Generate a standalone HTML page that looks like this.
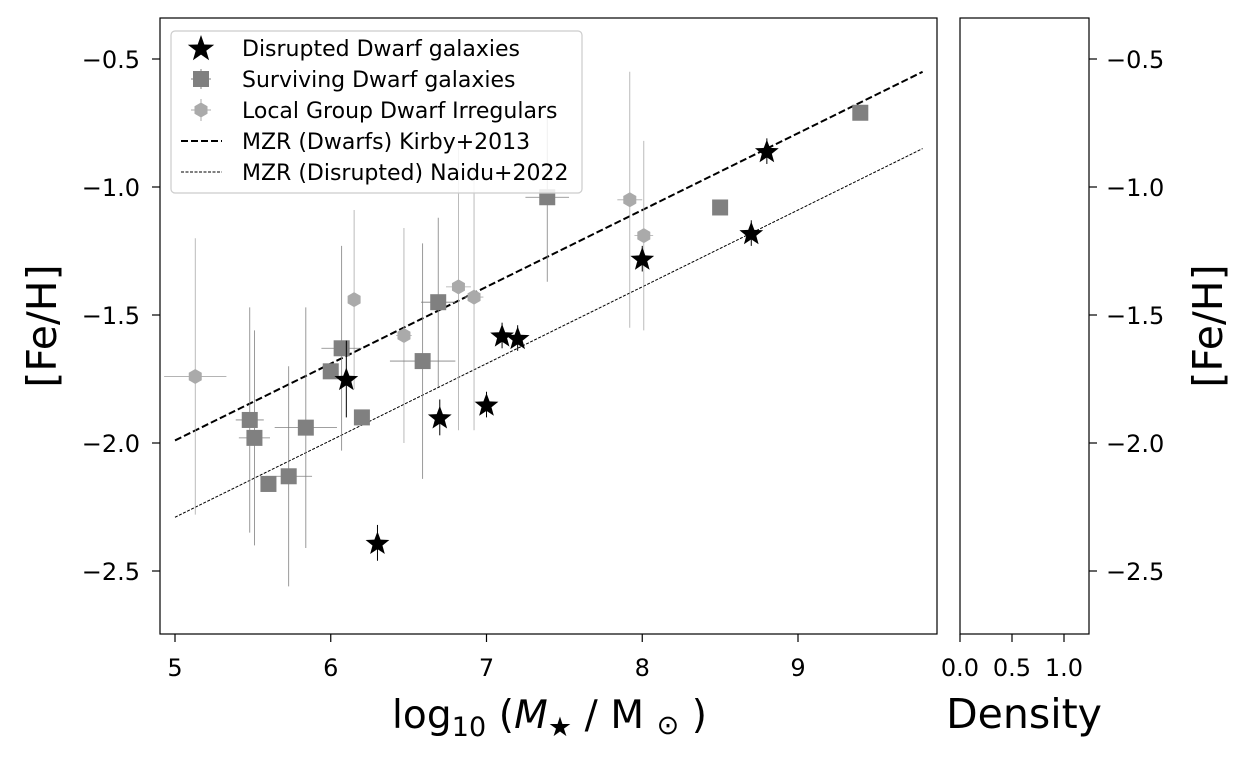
<!DOCTYPE html>
<html><head><meta charset="utf-8">
<style>
html,body{margin:0;padding:0;background:#fff;width:1250px;height:760px;overflow:hidden}
svg text{font-family:"DejaVu Sans","Liberation Sans",sans-serif;fill:#000}
</style></head>
<body>
<svg id="chart" width="1250" height="760" viewBox="0 0 1250 760" xmlns="http://www.w3.org/2000/svg" style="position:absolute;left:0;top:0"></svg>
<script>
// ---- data ----
const disruptedMass = [6.1, 6.3, 6.7, 7.0, 7.1, 7.2, 8.0, 8.7, 8.8];
const disruptedFeH  = [-1.75, -2.39, -1.90, -1.85, -1.58, -1.59, -1.28, -1.18, -0.86];
const disruptedYerr = [0.15, 0.07, 0.07, 0.05, 0.05, 0.05, 0.05, 0.05, 0.05];

const survivingMass = [5.48, 5.51, 5.60, 5.73, 5.84, 6.00, 6.07, 6.20, 6.59, 6.69, 7.39, 8.50, 9.40];
const survivingFeH  = [-1.91, -1.98, -2.16, -2.13, -1.94, -1.72, -1.63, -1.90, -1.68, -1.45, -1.04, -1.08, -0.71];
const survivingXerr = [0.09, 0.1, 0.03, 0.15, 0.2, 0.05, 0.13, 0.04, 0.21, 0.11, 0.14, 0.0, 0.0];
const survivingYerr = [0.44, 0.42, 0.03, 0.43, 0.47, 0.03, 0.40, 0.03, 0.46, 0.33, 0.33, 0.0, 0.0];

const irrMass = [5.13, 6.15, 6.47, 6.82, 6.92, 7.92, 8.01];
const irrFeH  = [-1.74, -1.44, -1.58, -1.39, -1.43, -1.05, -1.19];
const irrXerr = [0.2, 0.03, 0.05, 0.08, 0.06, 0.08, 0.06];
const irrYerr = [0.54, 0.35, 0.42, 0.56, 0.52, 0.5, 0.37];

const kirbyIntercept = -1.69, kirbySlope = 0.30;
const naiduIntercept = -1.99, naiduSlope = 0.30;
const xTicks = [5, 6, 7, 8, 9];
const yTicks = [-0.5, -1.0, -1.5, -2.0, -2.5];
const yTickLabels = ["\u22120.5", "\u22121.0", "\u22121.5", "\u22122.0", "\u22122.5"];
const densTicks = [0.0, 0.5, 1.0];
const densTickLabels = ["0.0", "0.5", "1.0"];

// ---- axes ----
const X = v => 175 + (v - 5) * 155.75;
const Y = v => 59 + (-0.5 - v) * 256;
const D = v => 960 + v * 104;
const NS = "http://www.w3.org/2000/svg";
const svg = document.getElementById('chart');
function el(tag, attrs, parent, text) {
  const e = document.createElementNS(NS, tag);
  for (const k in attrs) e.setAttribute(k, attrs[k]);
  if (text !== undefined) e.textContent = text;
  (parent || svg).appendChild(e);
  return e;
}
const defs = el('defs', {});
const cp = el('clipPath', {id: 'clip'}, defs);
el('rect', {x: 160, y: 18, width: 777, height: 616}, cp);
const plot = el('g', {'clip-path': 'url(#clip)'});



function starPath(cx, cy, r) {
  let d = '';
  for (let i = 0; i < 10; i++) {
    const a = -Math.PI / 2 + i * Math.PI / 5;
    const rr = i % 2 ? r * 0.42 : r;
    d += (i ? 'L' : 'M') + (cx + rr * Math.cos(a)).toFixed(2) + ',' + (cy + rr * Math.sin(a)).toFixed(2);
  }
  return d + 'Z';
}
function hexPath(cx, cy, r) {
  let d = '';
  for (let i = 0; i < 6; i++) {
    const a = -Math.PI / 2 + i * Math.PI / 3;
    d += (i ? 'L' : 'M') + (cx + r * Math.cos(a)).toFixed(2) + ',' + (cy + r * Math.sin(a)).toFixed(2);
  }
  return d + 'Z';
}

const xs = 5, xe = 9.8;
const kl = el('line', {x1: X(xs), y1: Y(kirbyIntercept + kirbySlope * (xs - 6)), x2: X(xe), y2: Y(kirbyIntercept + kirbySlope * (xe - 6)), stroke: '#000', 'stroke-width': 2, 'stroke-dasharray': '7,3'}, plot);


const nl = el('line', {x1: X(xs), y1: Y(naiduIntercept + naiduSlope * (xs - 6)), x2: X(xe), y2: Y(naiduIntercept + naiduSlope * (xe - 6)), stroke: '#000', 'stroke-width': 1, 'stroke-dasharray': '3,1.5'}, plot);



irrMass.forEach((m, i) => {
  const g = el('g', {}, plot);
  
  
  el('line', {x1: X(m), x2: X(m), y1: Y(irrFeH[i] + irrYerr[i]), y2: Y(irrFeH[i] - irrYerr[i]), stroke: '#aaa', 'stroke-width': 0.8}, g);
  el('line', {x1: X(m - irrXerr[i]), x2: X(m + irrXerr[i]), y1: Y(irrFeH[i]), y2: Y(irrFeH[i]), stroke: '#aaa', 'stroke-width': 0.8}, g);
  el('path', {d: hexPath(X(m), Y(irrFeH[i]), 7.5), fill: '#aaaaaa'}, g);
});
survivingMass.forEach((m, i) => {
  const g = el('g', {}, plot);
  
  
  el('line', {x1: X(m), x2: X(m), y1: Y(survivingFeH[i] + survivingYerr[i]), y2: Y(survivingFeH[i] - survivingYerr[i]), stroke: '#808080', 'stroke-width': 0.8}, g);
  el('line', {x1: X(m - survivingXerr[i]), x2: X(m + survivingXerr[i]), y1: Y(survivingFeH[i]), y2: Y(survivingFeH[i]), stroke: '#808080', 'stroke-width': 0.8}, g);
  el('rect', {x: X(m) - 8, y: Y(survivingFeH[i]) - 8, width: 16, height: 16, fill: '#808080'}, g);
});
disruptedMass.forEach((m, i) => {
  const g = el('g', {}, plot);
  
  
  el('line', {x1: X(m), x2: X(m), y1: Y(disruptedFeH[i] + disruptedYerr[i]), y2: Y(disruptedFeH[i] - disruptedYerr[i]), stroke: '#000', 'stroke-width': 1}, g);
  el('path', {d: starPath(X(m), Y(disruptedFeH[i]) + 1, 12.5), fill: '#000'}, g);
});

const f1 = el('rect', {x: 160, y: 18, width: 777, height: 616, fill: 'none', stroke: '#000', 'stroke-width': 1.2});


const f2 = el('rect', {x: 960, y: 18, width: 129, height: 616, fill: 'none', stroke: '#000', 'stroke-width': 1.2});



xTicks.forEach(t => {
  el('line', {x1: X(t), x2: X(t), y1: 634, y2: 642, stroke: '#000', 'stroke-width': 1.2});
  const tl = el('text', {x: X(t), y: 676, 'font-size': 24, 'text-anchor': 'middle'}, svg, String(t));
  
  
});
yTicks.forEach((t, i) => {
  el('line', {x1: 152, x2: 160, y1: Y(t), y2: Y(t), stroke: '#000', 'stroke-width': 1.2});
  const tl = el('text', {x: 140, y: Y(t) + 9, 'font-size': 24, 'text-anchor': 'end'}, svg, yTickLabels[i]);
  
  
  el('line', {x1: 1089, x2: 1097, y1: Y(t), y2: Y(t), stroke: '#000', 'stroke-width': 1.2});
  const tr = el('text', {x: 1106, y: Y(t) + 9, 'font-size': 24}, svg, yTickLabels[i]);
  
  
});
densTicks.forEach((t, i) => {
  el('line', {x1: D(t), x2: D(t), y1: 634, y2: 642, stroke: '#000', 'stroke-width': 1.2});
  const tl = el('text', {x: D(t), y: 676, 'font-size': 24, 'text-anchor': 'middle'}, svg, densTickLabels[i]);
  
  
});
</script>
<svg width="1250" height="760" style="position:absolute;left:0;top:0;pointer-events:none">
  <g>
    <text x="392" y="728" font-size="39" textLength="315" lengthAdjust="spacing" style="font-family:'DejaVu Sans',sans-serif">log<tspan font-size="27" dy="8">10</tspan><tspan dy="-8"> (</tspan><tspan font-style="italic">M</tspan><tspan font-size="27" dy="8">★</tspan><tspan dy="-8"> / M </tspan><tspan font-size="27" dy="6">⊙</tspan><tspan dy="-6"> )</tspan></text>
  </g>
  <text transform="translate(56,326) rotate(-90)" font-size="41" text-anchor="middle" style="font-family:'DejaVu Sans',sans-serif">[Fe/H]</text>
  <text transform="translate(1222,326) rotate(-90)" font-size="41" text-anchor="middle" style="font-family:'DejaVu Sans',sans-serif">[Fe/H]</text>
  <text x="1024" y="728" font-size="41" text-anchor="middle" style="font-family:'DejaVu Sans',sans-serif">Density</text>
  <g style="font-family:'DejaVu Sans',sans-serif">
    <rect x="171" y="31" width="411" height="162" rx="4" fill="#fff" fill-opacity="0.85" stroke="#ccc" stroke-width="1.2"/>
    <g>
      <path d="M201,35 L204.3,44.5 L214.2,44.7 L206.3,50.7 L209.1,60.2 L201,54.6 L192.9,60.2 L195.7,50.7 L187.8,44.7 L197.7,44.5Z" fill="#000"/>
      <text x="242" y="56" font-size="22">Disrupted Dwarf galaxies</text>
    </g>
    <g>
      <line x1="201" x2="201" y1="69" y2="89" stroke="#808080"/><line x1="191" x2="211" y1="79" y2="79" stroke="#808080"/>
      <rect x="193" y="71" width="16" height="16" fill="#808080"/>
      <text x="242" y="87" font-size="22">Surviving Dwarf galaxies</text>
    </g>
    <g>
      <line x1="201" x2="201" y1="99" y2="121" stroke="#aaa"/><line x1="191" x2="211" y1="110" y2="110" stroke="#aaa"/>
      <path d="M201,102.5 L207.5,106.3 L207.5,113.8 L201,117.5 L194.5,113.8 L194.5,106.3Z" fill="#aaa"/>
      <text x="242" y="118" font-size="22">Local Group Dwarf Irregulars</text>
    </g>
    <g>
      <line x1="181" x2="222" y1="141" y2="141" stroke="#000" stroke-width="2" stroke-dasharray="7,3"/>
      <text x="242" y="149" font-size="22">MZR (Dwarfs) Kirby+2013</text>
    </g>
    <g>
      <line x1="181" x2="222" y1="172" y2="172" stroke="#000" stroke-width="1" stroke-dasharray="3,1.5"/>
      <text x="242" y="180" font-size="22">MZR (Disrupted) Naidu+2022</text>
    </g>
  </g>
</svg>
</body></html>
